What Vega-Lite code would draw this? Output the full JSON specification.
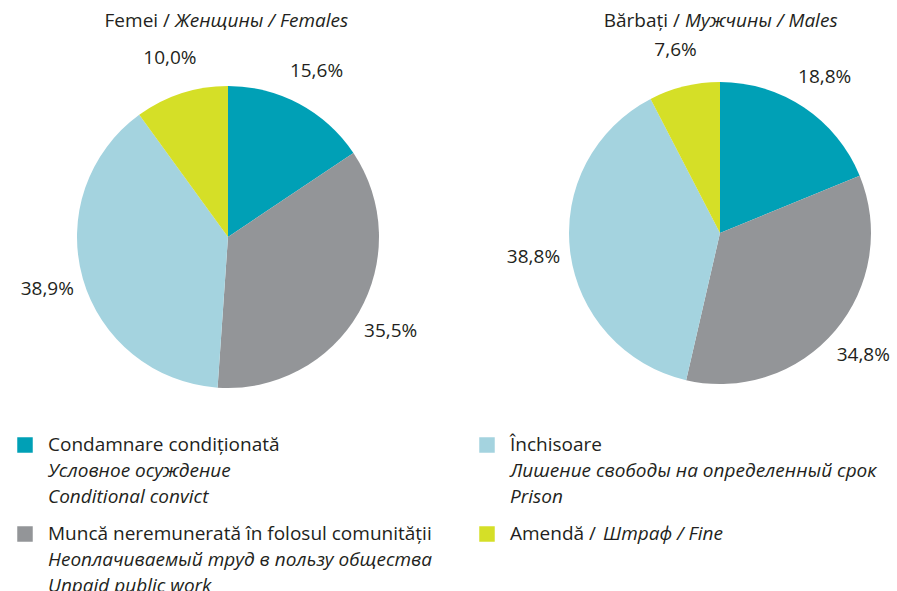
{
  "$schema": "https://vega.github.io/schema/vega-lite/v6.json",
  "background": "white",
  "padding": {"left": 17, "top": 12, "right": 0, "bottom": 0},
  "bounds": "flush",
  "columns": 2,
  "spacing": {"row": 37, "column": 119},
  "align": {"row": "each", "column": "all"},
  "config": {
    "view": {"stroke": null},
    "font": "Open Sans",
    "text": {"font": "Open Sans", "fontSize": 19, "fill": "#231F20"}
  },
  "datasets": {
    "pies": [
      {"sex": "F", "cat": "cond", "ord": 1, "pct": 15.6, "label": "15,6%"},
      {"sex": "F", "cat": "munca", "ord": 2, "pct": 35.5, "label": "35,5%"},
      {"sex": "F", "cat": "inch", "ord": 3, "pct": 38.9, "label": "38,9%"},
      {"sex": "F", "cat": "amenda", "ord": 4, "pct": 10.0, "label": "10,0%"},
      {"sex": "M", "cat": "cond", "ord": 1, "pct": 18.8, "label": "18,8%"},
      {"sex": "M", "cat": "munca", "ord": 2, "pct": 34.8, "label": "34,8%"},
      {"sex": "M", "cat": "inch", "ord": 3, "pct": 38.8, "label": "38,8%"},
      {"sex": "M", "cat": "amenda", "ord": 4, "pct": 7.6, "label": "7,6%"}
    ],
    "titles": [
      {"sex": "F", "part": "reg", "t": "Femei /"},
      {"sex": "F", "part": "it", "t": "Женщины / Females"},
      {"sex": "M", "part": "reg", "t": "Bărbați /"},
      {"sex": "M", "part": "it", "t": "Мужчины / Males"}
    ],
    "legend": [
      {"row": 0, "col": 0, "line": 0, "kind": "sq", "cat": "cond", "t": ""},
      {"row": 0, "col": 0, "line": 0, "kind": "reg", "cat": "cond", "t": "Condamnare condiționată"},
      {"row": 0, "col": 0, "line": 1, "kind": "it", "cat": "cond", "t": "Условное осуждение"},
      {"row": 0, "col": 0, "line": 2, "kind": "it", "cat": "cond", "t": "Conditional convict"},
      {"row": 0, "col": 1, "line": 0, "kind": "sq", "cat": "inch", "t": ""},
      {"row": 0, "col": 1, "line": 0, "kind": "reg", "cat": "inch", "t": "Închisoare"},
      {"row": 0, "col": 1, "line": 1, "kind": "it", "cat": "inch", "t": "Лишение свободы на определенный срок"},
      {"row": 0, "col": 1, "line": 2, "kind": "it", "cat": "inch", "t": "Prison"},
      {"row": 1, "col": 0, "line": 0, "kind": "sq", "cat": "munca", "t": ""},
      {"row": 1, "col": 0, "line": 0, "kind": "reg", "cat": "munca", "t": "Muncă neremunerată în folosul comunității"},
      {"row": 1, "col": 0, "line": 1, "kind": "it", "cat": "munca", "t": "Неоплачиваемый труд в пользу общества"},
      {"row": 1, "col": 0, "line": 2, "kind": "it", "cat": "munca", "t": "Unpaid public work"},
      {"row": 1, "col": 1, "line": 0, "kind": "sq", "cat": "amenda", "t": ""},
      {"row": 1, "col": 1, "line": 0, "kind": "reg", "cat": "amenda", "t": "Amendă /"},
      {"row": 1, "col": 1, "line": 0, "kind": "it2", "cat": "amenda", "t": "Штраф / Fine"}
    ]
  },
  "concat": [
    {
      "width": 406,
      "height": 342,
      "layer": [
        {
          "data": {"name": "pies"},
          "transform": [{"filter": "datum.sex == 'F'"}],
          "mark": {"type": "arc", "outerRadius": 151},
          "encoding": {
            "theta": {"field": "pct", "type": "quantitative", "stack": true},
            "order": {"field": "ord", "type": "quantitative"},
            "color": {"field": "cat", "type": "nominal", "legend": null,
              "scale": {"domain": ["cond", "munca", "inch", "amenda"], "range": ["#00A0B6", "#939598", "#A4D3DF", "#D5DF27"]}}
          }
        },
        {
          "data": {"name": "pies"},
          "transform": [{"filter": "datum.sex == 'F'"}],
          "mark": {"type": "text", "radius": 188, "align": "center", "baseline": "middle"},
          "encoding": {
            "theta": {"field": "pct", "type": "quantitative", "stack": true},
            "order": {"field": "ord", "type": "quantitative"},
            "text": {"field": "label", "type": "nominal"}
          }
        },
        {
          "data": {"name": "titles"},
          "transform": [{"filter": "datum.sex == 'F' && datum.part == 'reg'"}],
          "mark": {"type": "text", "align": "right", "baseline": "alphabetic", "y": -39, "dx": -58},
          "encoding": {
            "x": {"datum": 0.5, "type": "quantitative", "scale": {"domain": [0, 1]}, "axis": null},
            "text": {"field": "t", "type": "nominal"}
          }
        },
        {
          "data": {"name": "titles"},
          "transform": [{"filter": "datum.sex == 'F' && datum.part == 'it'"}],
          "mark": {"type": "text", "align": "left", "baseline": "alphabetic", "fontStyle": "italic", "y": -39, "dx": -53},
          "encoding": {
            "x": {"datum": 0.5, "type": "quantitative", "scale": {"domain": [0, 1]}, "axis": null},
            "text": {"field": "t", "type": "nominal"}
          }
        }
      ]
    },
    {
      "width": 340,
      "height": 334,
      "layer": [
        {
          "data": {"name": "pies"},
          "transform": [{"filter": "datum.sex == 'M'"}],
          "mark": {"type": "arc", "outerRadius": 151},
          "encoding": {
            "theta": {"field": "pct", "type": "quantitative", "stack": true},
            "order": {"field": "ord", "type": "quantitative"},
            "color": {"field": "cat", "type": "nominal", "legend": null,
              "scale": {"domain": ["cond", "munca", "inch", "amenda"], "range": ["#00A0B6", "#939598", "#A4D3DF", "#D5DF27"]}}
          }
        },
        {
          "data": {"name": "pies"},
          "transform": [{"filter": "datum.sex == 'M'"}],
          "mark": {"type": "text", "radius": 188, "align": "center", "baseline": "middle"},
          "encoding": {
            "theta": {"field": "pct", "type": "quantitative", "stack": true},
            "order": {"field": "ord", "type": "quantitative"},
            "text": {"field": "label", "type": "nominal"}
          }
        },
        {
          "data": {"name": "titles"},
          "transform": [{"filter": "datum.sex == 'M' && datum.part == 'reg'"}],
          "mark": {"type": "text", "align": "right", "baseline": "alphabetic", "y": -39, "dx": -40},
          "encoding": {
            "x": {"datum": 0.5, "type": "quantitative", "scale": {"domain": [0, 1]}, "axis": null},
            "text": {"field": "t", "type": "nominal"}
          }
        },
        {
          "data": {"name": "titles"},
          "transform": [{"filter": "datum.sex == 'M' && datum.part == 'it'"}],
          "mark": {"type": "text", "align": "left", "baseline": "alphabetic", "fontStyle": "italic", "y": -39, "dx": -35},
          "encoding": {
            "x": {"datum": 0.5, "type": "quantitative", "scale": {"domain": [0, 1]}, "axis": null},
            "text": {"field": "t", "type": "nominal"}
          }
        }
      ]
    },
    {
      "width": 406,
      "height": 52,
      "data": {"name": "legend"},
      "transform": [{"filter": "datum.row == 0"}],
      "encoding": {
        "x": {"field": "col", "type": "quantitative", "scale": {"domain": [0, 1], "range": [0, 462]}, "axis": null},
        "y": {"field": "line", "type": "quantitative", "scale": {"domain": [0, 2], "reverse": true}, "axis": null}
      },
      "layer": [
        {
          "transform": [{"filter": "datum.kind == 'sq'"}],
          "mark": {"type": "square", "size": 240, "opacity": 1, "filled": true},
          "encoding": {"color": {"field": "cat", "type": "nominal", "legend": null}}
        },
        {
          "transform": [{"filter": "datum.kind == 'reg'"}],
          "mark": {"type": "text", "align": "left", "baseline": "middle", "dx": 23},
          "encoding": {"text": {"field": "t", "type": "nominal"}}
        },
        {
          "transform": [{"filter": "datum.kind == 'it'"}],
          "mark": {"type": "text", "align": "left", "baseline": "middle", "dx": 23, "fontStyle": "italic"},
          "encoding": {"text": {"field": "t", "type": "nominal"}}
        }
      ]
    },
    {
      "width": 1,
      "height": 1,
      "data": {"values": [{"t": ""}]},
      "mark": {"type": "text"},
      "encoding": {"text": {"field": "t", "type": "nominal"}}
    },
    {
      "width": 406,
      "height": 52,
      "data": {"name": "legend"},
      "transform": [{"filter": "datum.row == 1"}],
      "encoding": {
        "x": {"field": "col", "type": "quantitative", "scale": {"domain": [0, 1], "range": [0, 462]}, "axis": null},
        "y": {"field": "line", "type": "quantitative", "scale": {"domain": [0, 2], "reverse": true}, "axis": null}
      },
      "layer": [
        {
          "transform": [{"filter": "datum.kind == 'sq'"}],
          "mark": {"type": "square", "size": 240, "opacity": 1, "filled": true},
          "encoding": {"color": {"field": "cat", "type": "nominal", "legend": null}}
        },
        {
          "transform": [{"filter": "datum.kind == 'reg'"}],
          "mark": {"type": "text", "align": "left", "baseline": "middle", "dx": 23},
          "encoding": {"text": {"field": "t", "type": "nominal"}}
        },
        {
          "transform": [{"filter": "datum.kind == 'it'"}],
          "mark": {"type": "text", "align": "left", "baseline": "middle", "dx": 23, "fontStyle": "italic"},
          "encoding": {"text": {"field": "t", "type": "nominal"}}
        },
        {
          "transform": [{"filter": "datum.kind == 'it2'"}],
          "mark": {"type": "text", "align": "left", "baseline": "middle", "dx": 116, "fontStyle": "italic"},
          "encoding": {"text": {"field": "t", "type": "nominal"}}
        }
      ]
    }
  ]
}
